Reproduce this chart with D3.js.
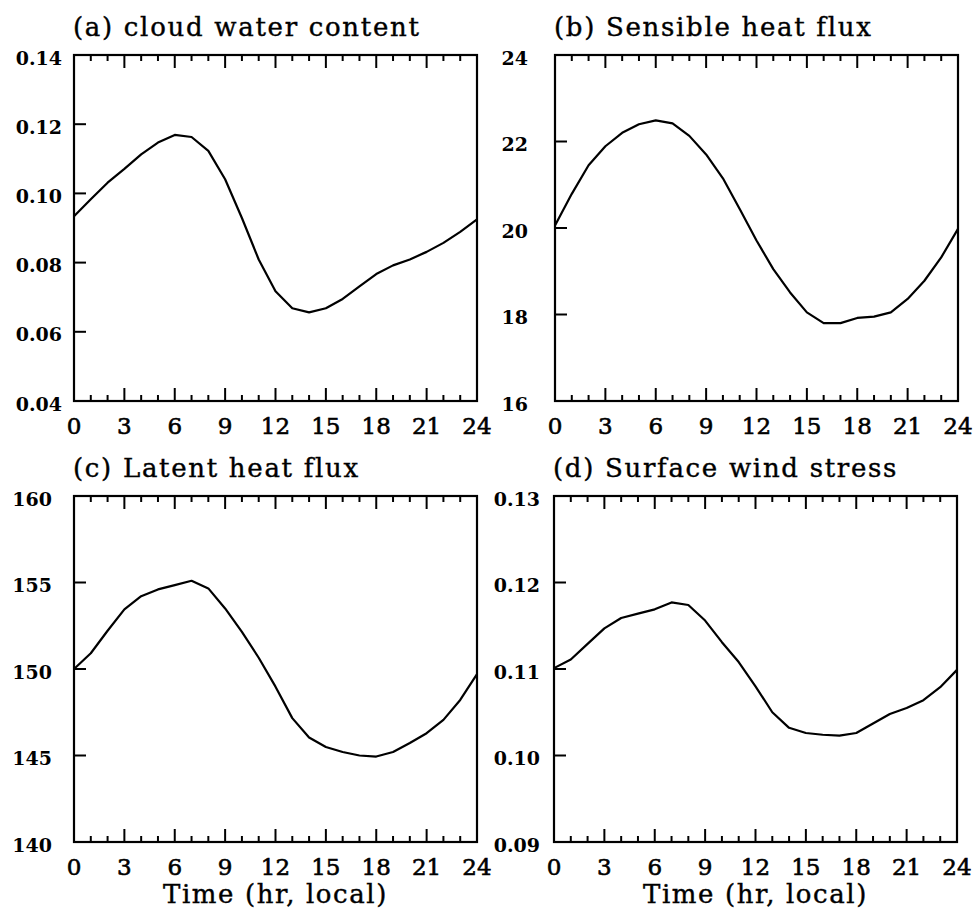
<!DOCTYPE html>
<html>
<head>
<meta charset="utf-8">
<script src="https://cdn.jsdelivr.net/npm/d3@7"></script>
<style>
    body { margin: 0; background: #fff; }
    svg { display: block; }
</style>
</head>
<body>
<svg id="svg"></svg>
<script>
// hour of day (local)
const hours = [0, 1, 2, 3, 4, 5, 6, 7, 8, 9, 10, 11, 12, 13, 14, 15, 16, 17, 18, 19, 20, 21, 22, 23, 24];
const hourTicks = [0, 3, 6, 9, 12, 15, 18, 21, 24];

// values
const cloudWater = [0.0934, 0.0983, 0.1031, 0.1071, 0.1113, 0.1147, 0.1169, 0.1163, 0.1123, 0.1041,
    0.0929, 0.0809, 0.0717, 0.0668, 0.0656, 0.0668, 0.0695, 0.0731, 0.0767, 0.0792,
    0.0809, 0.0831, 0.0857, 0.0889, 0.0925];
const sensibleHeat = [20.06, 20.79, 21.45, 21.89, 22.20, 22.40, 22.49, 22.42, 22.13, 21.70,
    21.15, 20.44, 19.71, 19.05, 18.51, 18.05, 17.80, 17.80, 17.92, 17.95,
    18.05, 18.36, 18.78, 19.32, 19.98];
const latentHeat = [150.0, 150.91, 152.21, 153.45, 154.21, 154.60, 154.85, 155.10, 154.66, 153.50,
    152.15, 150.65, 148.98, 147.16, 146.04, 145.49, 145.20, 145.0, 144.94, 145.20,
    145.72, 146.29, 147.06, 148.21, 149.70];
const windStress = [0.1101, 0.1111, 0.1129, 0.1147, 0.1159, 0.1164, 0.1169, 0.1177, 0.1174, 0.1156,
    0.1131, 0.1108, 0.1080, 0.1050, 0.1032, 0.1026, 0.1024, 0.1023, 0.1026, 0.1037,
    0.1048, 0.1055, 0.1064, 0.1079, 0.1099];

const titles = ['(a) cloud water content', '(b) Sensible heat flux', '(c) Latent heat flux', '(d) Surface wind stress'];
const yTicks = [
    [0.04, 0.06, 0.08, 0.10, 0.12, 0.14],
    [16, 18, 20, 22, 24],
    [140, 145, 150, 155, 160],
    [0.09, 0.10, 0.11, 0.12, 0.13],
];
const yFormats = ['.2f', 'd', 'd', '.2f'];
const series = [cloudWater, sensibleHeat, latentHeat, windStress];
const xTitle = 'Time (hr, local)';

const width = 974;
const height = 915;
const font = '"DejaVu Serif", serif';

// panel frames
const panels = [
    { left: 74, top: 55, labelGap: 12 },
    { left: 555, top: 55, labelGap: 27 },
    { left: 74, top: 496, labelGap: 22 },
    { left: 554, top: 496, labelGap: 14 },
];
const pw = 403;
const ph = 346;

const svg = d3.select('#svg')
    .attr('width', width)
    .attr('height', height)
    .attr('viewBox', [0, 0, width, height])
    .attr('font-family', font);

panels.forEach((p, k) => {
    const g = svg.append('g')
        .attr('transform', `translate(${p.left},${p.top})`);

    const x = d3.scaleLinear().domain([0, 24]).range([0, pw]);
    const ticks = yTicks[k];
    const y = d3.scaleLinear().domain([ticks[0], ticks[ticks.length - 1]]).range([ph, 0]);

    // minor + major hour ticks, bottom (up) and top (down)
    const tickLen = h => h % 3 === 0 ? 13 : 6;

    g.append('g')
        .selectAll('line')
        .data(hours.slice(1, -1))
        .join('line')
            .attr('x1', h => x(h))
            .attr('x2', h => x(h))
            .attr('y1', ph)
            .attr('y2', h => ph - tickLen(h))
            .attr('stroke', '#000')
            .attr('stroke-width', 2);

    g.append('g')
        .selectAll('line')
        .data(hours.slice(1, -1))
        .join('line')
            .attr('x1', h => x(h))
            .attr('x2', h => x(h))
            .attr('y1', 0)
            .attr('y2', h => tickLen(h))
            .attr('stroke', '#000')
            .attr('stroke-width', 2);

    // y ticks on the left, pointing in
    g.append('g')
        .selectAll('line')
        .data(ticks.slice(1, -1))
        .join('line')
            .attr('x1', 0)
            .attr('x2', 12)
            .attr('y1', d => y(d))
            .attr('y2', d => y(d))
            .attr('stroke', '#000')
            .attr('stroke-width', 2);

    g.append('g')
        .attr('text-anchor', 'end')
        .attr('font-size', 19)
        .attr('font-weight', 'bold')
        .selectAll('text')
        .data(ticks)
        .join('text')
            .attr('x', -p.labelGap)
            .attr('y', d => y(d) + 3)
            .attr('dy', '0.35em')
            .text(d3.format(yFormats[k]));

    g.append('g')
        .attr('text-anchor', 'middle')
        .attr('font-size', 23)
        .attr('stroke', '#000')
        .attr('stroke-width', 0.6)
        .selectAll('text')
        .data(hourTicks)
        .join('text')
            .attr('x', d => x(d))
            .attr('y', ph + 33)
            .text(d => d);

    const line = d3.line()
        .x((_d, i) => x(hours[i]))
        .y(d => y(d));

    g.append('path')
        .datum(series[k])
        .attr('fill', 'none')
        .attr('stroke', '#000')
        .attr('stroke-width', 2.2)
        .attr('stroke-linejoin', 'round')
        .attr('d', line);

    g.append('rect')
        .attr('width', pw)
        .attr('height', ph)
        .attr('fill', 'none')
        .attr('stroke', '#000')
        .attr('stroke-width', 2.2);

    g.append('text')
        .attr('x', -1)
        .attr('y', -19)
        .attr('font-size', 26)
        .attr('letter-spacing', 1.7)
        .attr('stroke', '#000')
        .attr('stroke-width', 0.4)
        .text(titles[k]);

    if (k >= 2) {
        g.append('text')
            .attr('x', pw / 2)
            .attr('y', ph + 61)
            .attr('text-anchor', 'middle')
            .attr('font-size', 26)
            .attr('letter-spacing', 1.6)
            .attr('stroke', '#000')
            .attr('stroke-width', 0.4)
            .text(xTitle);
    }
});
</script>
</body>
</html>
